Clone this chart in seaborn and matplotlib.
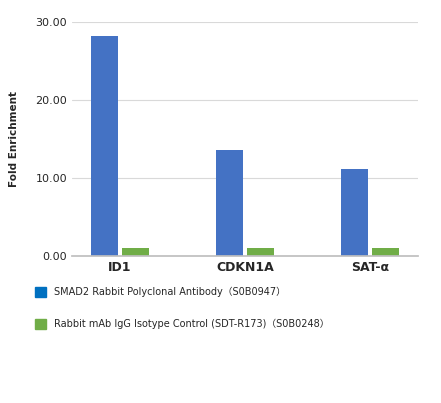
import matplotlib
matplotlib.use("Agg")
import matplotlib.pyplot as plt
import seaborn as sns
import pandas as pd
from matplotlib.patches import Patch

categories = ["ID1", "CDKN1A", "SAT-α"]
smad2 = [28.2, 13.6, 11.1]
igg = [1.0, 1.0, 1.0]
series = ["SMAD2 Rabbit Polyclonal Antibody（S0B0947）",
          "Rabbit mAb IgG Isotype Control (SDT-R173)（S0B0248）"]
colors = ["#4472C4", "#70AD47"]

df = pd.DataFrame({
    "cat": categories * 2,
    "val": smad2 + igg,
    "series": [series[0]] * 3 + [series[1]] * 3,
})

sns.set_theme(style="white")
plt.rcParams['font.family'] = ['DejaVu Sans', 'Noto Sans CJK SC']
fig = plt.figure(figsize=(4.41, 4.03), dpi=100)
ax = fig.add_axes([0.163, 0.365, 0.785, 0.58])
sns.barplot(data=df, x="cat", y="val", hue="series", palette=colors,
            ax=ax, width=0.5, gap=0.12, legend=False, saturation=1,
            linewidth=0, edgecolor="none")
ax.set_xlim(-0.384, 2.384)
ax.set_ylim(0, 30)
ax.set_yticks([0, 10, 20, 30])
ax.set_yticklabels(["0.00", "10.00", "20.00", "30.00"], fontsize=8)
ax.yaxis.grid(True, color="#d9d9d9", linewidth=0.8)
ax.set_axisbelow(True)
for s in ["top", "right", "left"]:
    ax.spines[s].set_visible(False)
ax.spines["bottom"].set_color("#bfbfbf")
ax.tick_params(axis="x", labelsize=9, length=0)
ax.tick_params(axis="y", length=0)
for t in ax.get_xticklabels():
    t.set_fontweight("bold")
ax.set_xlabel("")
ax.set_ylabel("Fold Enrichment", fontsize=7.5, fontweight="bold", labelpad=12)

handles = [Patch(color=c) for c in ["#0070C0", "#70AD47"]]
fig.legend(handles, series, loc="upper left", bbox_to_anchor=(0.06, 0.31),
           frameon=False, fontsize=7, handlelength=1.1, handleheight=1.3,
           labelspacing=2.2)
fig.savefig("out.png", dpi=100)
